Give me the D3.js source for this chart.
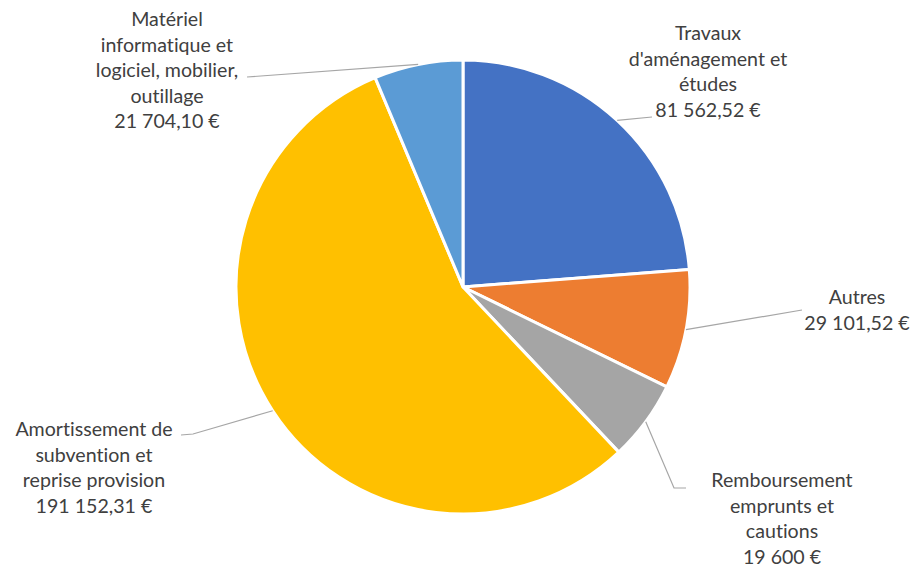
<!DOCTYPE html>
<html>
<head>
<meta charset="utf-8">
<script src="https://cdn.jsdelivr.net/npm/d3@7/dist/d3.min.js"></script>
<style>
  html, body { margin: 0; padding: 0; background: #fff; }
  svg { display: block; }
  text { font-family: Lato, "Noto Sans", sans-serif; fill: #404040; font-variant-ligatures: none; }
</style>
</head>
<body>
<svg id="chart" width="912" height="567"></svg>
<script>
// ---- data ----
const categories = [
  "Travaux d'aménagement et études",
  "Autres",
  "Remboursement emprunts et cautions",
  "Amortissement de subvention et reprise provision",
  "Matériel informatique et logiciel, mobilier, outillage"
];
const values = [81562.52, 29101.52, 19600, 191152.31, 21704.10];
const valueLabels = ["81 562,52 €", "29 101,52 €", "19 600 €", "191 152,31 €", "21 704,10 €"];
const labelLines = [
  ["Travaux", "d'aménagement et", "études"],
  ["Autres"],
  ["Remboursement", "emprunts et", "cautions"],
  ["Amortissement de", "subvention et", "reprise provision"],
  ["Matériel", "informatique et", "logiciel, mobilier,", "outillage"]
];
const colors = ["#4472C4", "#ED7D31", "#A5A5A5", "#FFC000", "#5B9BD5"];

// ---- layout (positions of labels / leader elbows) ----
const cx = 463, cy = 287, radius = 227;
const lineH = 25.6;
const labelLayout = [
  { x: 708, y: 40,  leader: [[652, 117]] },
  { x: 857, y: 304, leader: [[802, 310]] },
  { x: 782, y: 487, leader: [[674, 488], [686, 488]] },
  { x: 94,  y: 436, leader: [[193, 434], [181, 435]] },
  { x: 167, y: 26,  leader: [[247, 77]] }
];

const svg = d3.select("#chart");
const g = svg.append("g").attr("transform", `translate(${cx},${cy})`);

const pie = d3.pie().sort(null).value(d => d)(values);
const arc = d3.arc().innerRadius(0).outerRadius(radius);

g.selectAll("path.slice")
  .data(pie)
  .join("path")
  .attr("class", "slice")
  .attr("d", arc)
  .attr("fill", (d, i) => colors[i])
  .attr("stroke", "#fff")
  .attr("stroke-width", 3)
  .attr("stroke-linejoin", "round");

// leader lines
const line = d3.line();
pie.forEach((d, i) => {
  const mid = (d.startAngle + d.endAngle) / 2;
  const p0 = [cx + radius * Math.sin(mid), cy - radius * Math.cos(mid)];
  const pts = [p0, ...labelLayout[i].leader];
  svg.append("path")
    .attr("d", line(pts))
    .attr("fill", "none")
    .attr("stroke", "#A6A6A6")
    .attr("stroke-width", 1.2);
});

// labels
categories.forEach((c, i) => {
  const L = labelLayout[i];
  const lines = labelLines[i].concat([valueLabels[i]]);
  const t = svg.append("text")
    .attr("text-anchor", "middle")
    .attr("font-size", 19.6);
  lines.forEach((s, k) => {
    t.append("tspan").attr("x", L.x).attr("y", L.y + k * lineH).text(s);
  });
});
</script>
</body>
</html>
